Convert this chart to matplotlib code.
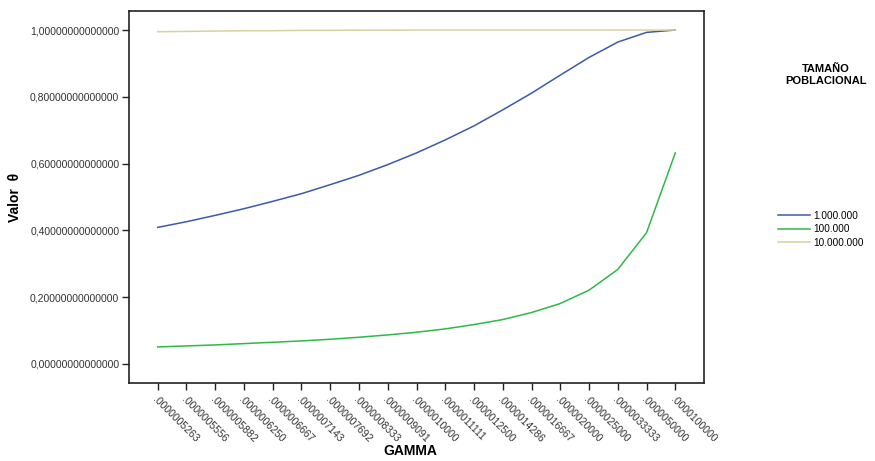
import matplotlib.pyplot as plt
from matplotlib.ticker import FixedLocator

plt.rcParams["font.family"] = ["Liberation Sans", "DejaVu Sans"]

gamma_labels = [
    ".0000005263", ".0000005556", ".0000005882", ".0000006250", ".0000006667",
    ".0000007143", ".0000007692", ".0000008333", ".0000009091", ".0000010000",
    ".0000011111", ".0000012500", ".0000014286", ".0000016667", ".0000020000",
    ".0000025000", ".0000033333", ".0000050000", ".0000100000",
]

theta_1m = [0.409, 0.426, 0.445, 0.465, 0.487, 0.510, 0.537, 0.565, 0.597, 0.632,
            0.671, 0.713, 0.761, 0.811, 0.865, 0.918, 0.964, 0.993, 1.000]
theta_100k = [0.051, 0.054, 0.057, 0.061, 0.065, 0.069, 0.074, 0.080, 0.087, 0.095,
              0.105, 0.118, 0.133, 0.154, 0.181, 0.221, 0.283, 0.393, 0.632]
theta_10m = [0.995, 0.996, 0.997, 0.998, 0.998, 0.999, 0.999, 0.9995, 0.9997, 1.0,
             1.0, 1.0, 1.0, 1.0, 1.0, 1.0, 1.0, 1.0, 1.0]

series = [
    ("1.000.000", theta_1m, "#3e58ac"),
    ("100.000", theta_100k, "#2eb848"),
    ("10.000.000", theta_10m, "#d8d0a0"),
]

y_ticks = [0.0, 0.2, 0.4, 0.6, 0.8, 1.0]

fig = plt.figure(figsize=(8.75, 4.61), dpi=100)
ax = fig.add_axes([0.1474, 0.1692, 0.6572, 0.8069])

x = list(range(len(gamma_labels)))
for name, vals, color in series:
    ax.plot(x, vals, color=color, lw=1.1, label=name)

ax.set_xlim(-1, len(gamma_labels))
ax.set_ylim(-0.057, 1.057)

ax.set_xticks(x)
ax.set_xticklabels(gamma_labels, rotation=-45, ha="left", va="top",
                   rotation_mode="anchor", fontsize=7.5, color="#333333")
ax.yaxis.set_major_locator(FixedLocator(y_ticks))
ax.set_yticklabels([f"{v:.14f}".replace(".", ",") for v in y_ticks],
                   fontsize=7.5, color="#333333")

ax.tick_params(axis="both", direction="out", length=5, width=1, color="#222222")
ax.tick_params(axis="x", pad=3)
ax.tick_params(axis="y", pad=2)
for sp in ax.spines.values():
    sp.set_linewidth(1.2)
    sp.set_color("#222222")

ax.set_xlabel("GAMMA", fontsize=10, fontweight="bold")
ax.set_ylabel("Valor  θ", fontsize=10, fontweight="bold", labelpad=6)
ax.xaxis.set_label_coords(0.49, -0.163)

fig.text(0.944, 0.837, "TAMAÑO\nPOBLACIONAL", ha="center", va="center",
         fontsize=8, fontweight="bold", linespacing=1.3)
fig.legend(loc="center left", bbox_to_anchor=(0.879, 0.503), frameon=False,
           fontsize=7.2, handlelength=3.2, handletextpad=0.3, labelspacing=0.35)

fig.savefig("out.png", dpi=100)
